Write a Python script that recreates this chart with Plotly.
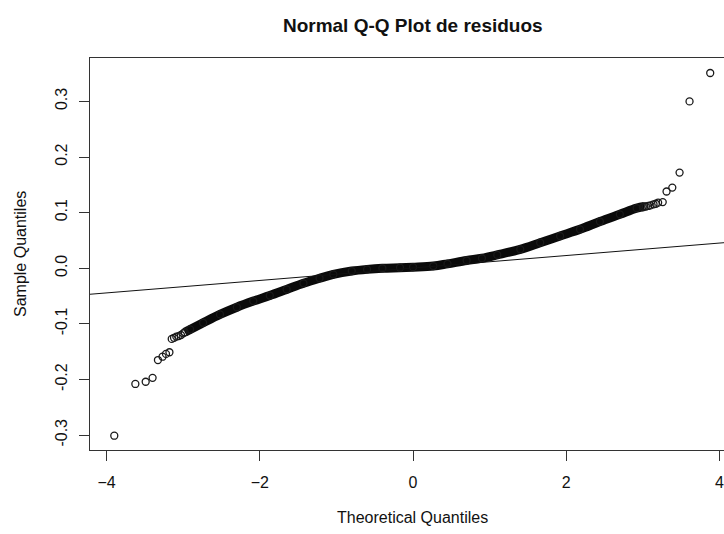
import plotly.graph_objects as go

# Dense central band of the Q-Q plot (theoretical quantile, sample quantile)
band_theoretical = [-2.98, -2.91, -2.74, -2.52, -2.30, -2.085, -1.87, -1.65, -1.43, -1.22,
                    -1.04, -0.80, -0.60, -0.40, -0.17, 0.0, 0.265, 0.45, 0.70, 0.90,
                    1.10, 1.40, 1.66, 1.92, 2.18, 2.44, 2.70, 2.92, 3.02]
band_sample = [-0.115, -0.110, -0.098, -0.083, -0.070, -0.059, -0.049, -0.038, -0.027, -0.018,
               -0.011, -0.005, -0.002, 0.000, 0.001, 0.002, 0.004, 0.008, 0.014, 0.018,
               0.024, 0.034, 0.046, 0.058, 0.070, 0.084, 0.097, 0.108, 0.111]

# Individually visible tail points
tail_theoretical = [-3.90, -3.625, -3.49, -3.40, -3.33, -3.27, -3.225, -3.18, -3.15, -3.12,
                    -3.09, -3.06, -3.03, -3.00,
                    3.00, 3.04, 3.07, 3.10, 3.14, 3.17, 3.20, 3.26, 3.31, 3.385, 3.48, 3.61, 3.88]
tail_sample = [-0.301, -0.208, -0.204, -0.197, -0.165, -0.159, -0.154, -0.151, -0.127, -0.125,
               -0.123, -0.122, -0.120, -0.117,
               0.110, 0.111, 0.112, 0.113, 0.115, 0.116, 0.118, 0.119, 0.138, 0.145, 0.172, 0.300, 0.351]

# qqline parameters
line_intercept = 0.0005
line_slope = 0.0112

x_ticks = [-4, -2, 0, 2, 4]
y_ticks = [-0.3, -0.2, -0.1, 0.0, 0.1, 0.2, 0.3]
y_ticktext = ["-0.3", "-0.2", "-0.1", "0.0", "0.1", "0.2", "0.3"]

x_range = [-4.217, 4.06]
y_range = [-0.3267, 0.378]

FONT = "Liberation Sans, Arial, Helvetica, sans-serif"
INK = "#111111"

marker_style = dict(symbol="circle-open", size=7, color="#1a1a1a", line=dict(width=1.3))

fig = go.Figure()

fig.add_trace(go.Scatter(
    x=band_theoretical, y=band_sample, mode="lines+markers",
    line=dict(color="#0a0a0a", width=9, shape="spline", smoothing=1.0), marker=marker_style,
    showlegend=False, hoverinfo="skip"))

fig.add_trace(go.Scatter(
    x=tail_theoretical, y=tail_sample, mode="markers",
    marker=marker_style, showlegend=False, hoverinfo="skip"))

line_x = [x_range[0], x_range[1]]
line_y = [line_intercept + line_slope * v for v in line_x]
fig.add_trace(go.Scatter(
    x=line_x, y=line_y, mode="lines",
    line=dict(color="#111111", width=1), showlegend=False, hoverinfo="skip"))

fig.update_layout(
    width=724, height=534,
    margin=dict(l=90, r=0, t=58, b=84),
    paper_bgcolor="white", plot_bgcolor="white",
    font=dict(family=FONT, color=INK, size=16),
    title=dict(text="<b>Normal Q-Q Plot de residuos</b>", xref="container", x=412.8 / 724,
               xanchor="center", yref="container", y=1 - 25 / 534, yanchor="middle",
               font=dict(family=FONT, size=19, color=INK)),
    xaxis=dict(range=x_range, tickvals=x_ticks, ticks="outside", ticklen=10, tickwidth=1,
               tickcolor="#333333", showline=True, linecolor="#333333", linewidth=1,
               mirror=True, showgrid=False, zeroline=False,
               tickfont=dict(family=FONT, size=16, color=INK), ticklabelstandoff=8),
    yaxis=dict(range=y_range, tickvals=y_ticks, ticktext=y_ticktext, tickangle=-90,
               ticks="outside", ticklen=10, tickwidth=1, tickcolor="#333333",
               showline=True, linecolor="#333333", linewidth=1, mirror=False,
               showgrid=False, zeroline=False,
               tickfont=dict(family=FONT, size=16, color=INK), ticklabelstandoff=6),
    annotations=[
        dict(text="Theoretical Quantiles", xref="paper", yref="paper",
             x=(412.8 - 90) / 634, y=(450 - 517) / 392, xanchor="center", yanchor="middle",
             showarrow=False, font=dict(family=FONT, size=16, color=INK)),
        dict(text="Sample Quantiles", xref="paper", yref="paper",
             x=(20 - 90) / 634, y=0.5, xanchor="center", yanchor="middle", textangle=-90,
             showarrow=False, font=dict(family=FONT, size=16, color=INK)),
    ],
)

fig.write_html("out.html")
